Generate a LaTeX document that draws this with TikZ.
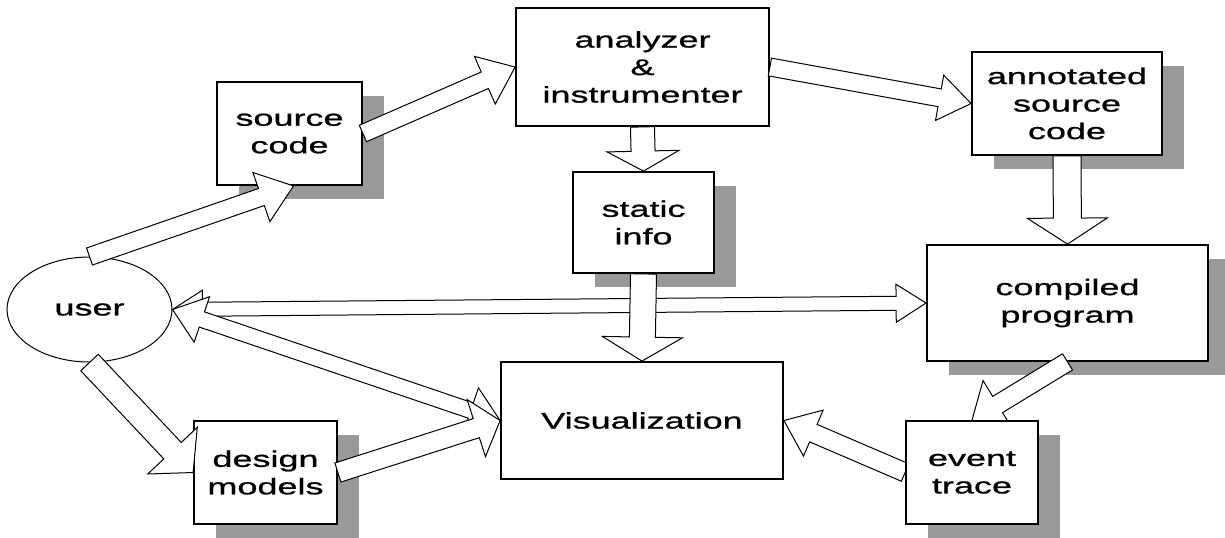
\documentclass[tikz,border=0pt]{standalone}
\usepackage{fontspec}
\setmainfont{Liberation Sans}[FakeStretch=1.6, FakeBold=1]
\usetikzlibrary{shapes.geometric, calc, shadows}

\pgfdeclarelayer{front}
\pgfsetlayers{main,front}

\tikzset{
    box/.style={draw, line width=0.9pt, fill=white, align=center, inner sep=0pt,
        font=\fontsize{11.25}{13.75}\selectfont},
    sbox/.style={box, drop shadow={shadow xshift=11pt, shadow yshift=-7pt,
        fill=black!40, opacity=1}},
    blk/.style={draw, fill=white, line width=0.5pt}
}

% hollow block arrow: tail, tip, half shaft, half head, head length
\newcommand{\blkarrow}[5]{%
    \draw[blk] let \p1=#1, \p2=#2, \p3=($(\p2)!#5!(\p1)$) in
        ($(\p1)!#3!90:(\p2)$) -- ($(\p3)!#3!90:(\p2)$) -- ($(\p3)!#4!90:(\p2)$)
        -- (\p2) -- ($(\p3)!#4!-90:(\p2)$) -- ($(\p3)!#3!-90:(\p2)$)
        -- ($(\p1)!#3!-90:(\p2)$) -- cycle;
}
% same, with a head at both ends
\newcommand{\blkdarrow}[5]{%
    \draw[blk] let \p1=#1, \p2=#2, \p3=($(\p2)!#5!(\p1)$), \p4=($(\p1)!#5!(\p2)$) in
        (\p1) -- ($(\p4)!#4!90:(\p2)$) -- ($(\p4)!#3!90:(\p2)$)
        -- ($(\p3)!#3!90:(\p2)$) -- ($(\p3)!#4!90:(\p2)$) -- (\p2)
        -- ($(\p3)!#4!-90:(\p2)$) -- ($(\p3)!#3!-90:(\p2)$)
        -- ($(\p4)!#3!-90:(\p2)$) -- ($(\p4)!#4!-90:(\p2)$) -- cycle;
}

\begin{document}
\begin{tikzpicture}[x=0.5pt, y=-0.5pt]
\useasboundingbox (0,0) rectangle (1225,537);

% --- boxes ---
\node[box, ellipse, line width=0.5pt, minimum width=82.5pt, minimum height=52.5pt] (user) at (89.5,309.5) {user};
\node[sbox, minimum width=72.5pt, minimum height=51.5pt] (src) at (289.5,133.5) {source\\code};
\node[box, minimum width=126.5pt, minimum height=59pt] (ana) at (642.5,67) {analyzer\\\&\\instrumenter};
\node[sbox, minimum width=95pt, minimum height=51.5pt] (ann) at (1067,103.5) {annotated\\source\\code};
\node[sbox, minimum width=70.5pt, minimum height=50.5pt] (sta) at (643.5,222.5) {static\\info};
\node[sbox, minimum width=140.5pt, minimum height=58pt] (cmp) at (1067.5,303) {compiled\\program};
\node[box, minimum width=141pt, minimum height=58.5pt] (vis) at (642,420.5) {Visualization};
\node[sbox, minimum width=71.5pt, minimum height=51.5pt] (des) at (265.5,472.5) {design\\models};
\begin{pgfonlayer}{front}
    \node[sbox, minimum width=66pt, minimum height=51.5pt] (evt) at (972,472.5) {event\\trace};
\end{pgfonlayer}

% --- arrows ---
\blkarrow{(user.north)}{($(src.south)+(4,0)$)}{4.5pt}{13pt}{17pt}
\blkarrow{(src.east)}{(ana.west)}{4.5pt}{13pt}{16.5pt}
\blkarrow{(ana.east)}{(ann.west)}{4.5pt}{11.5pt}{16pt}
\blkarrow{(ana.south)}{(sta.north)}{6pt}{18pt}{10pt}
\blkarrow{(ann.south)}{(cmp.north)}{7pt}{20pt}{13pt}
\blkdarrow{(user.east)}{(cmp.west)}{3.5pt}{9.5pt}{15pt}
\blkarrow{(sta.south)}{(vis.north)}{6.5pt}{20pt}{12pt}
\blkdarrow{(user.east)}{(vis.west)}{4pt}{12pt}{15.5pt}
\blkarrow{(user.south)}{(des.west)}{6pt}{17pt}{15pt}
\blkarrow{(des.east)}{(vis.west)}{5pt}{15pt}{12.5pt}
\blkarrow{(evt.west)}{(vis.east)}{4.75pt}{12.5pt}{16pt}
\blkarrow{(cmp.south)}{(evt.north)}{4.75pt}{14pt}{15pt}

\end{tikzpicture}
\end{document}
